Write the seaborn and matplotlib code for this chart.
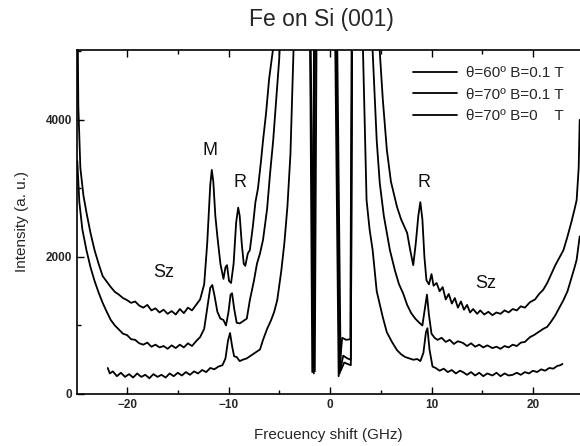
import matplotlib
matplotlib.use("Agg")
import matplotlib.pyplot as plt
import seaborn as sns
from matplotlib.ticker import MultipleLocator

# ---- data (off-scale points set above the axis top) ----
OFF = 6000

freq_60_01 = [-24.9, -24.8, -24.6, -24.3, -24.0, -23.6, -23.2, -22.8, -22.4, -22.0, -21.6, -21.2,
              -20.8, -20.4, -20.0, -19.6, -19.2, -18.8, -18.4, -18.0, -17.6, -17.2, -16.8, -16.4,
              -16.0, -15.6, -15.2, -14.8, -14.4, -14.0, -13.6, -13.2, -12.8, -12.4, -12.1, -11.8,
              -11.65, -11.5, -11.3, -11.1, -10.8, -10.5, -10.3, -10.15, -9.95, -9.75, -9.5, -9.25,
              -9.05, -8.9, -8.7, -8.5, -8.35, -8.1, -7.9, -7.6, -7.35, -7.1, -6.8, -6.6, -6.3, -6.0,
              -5.6, -5.3, -2.0, -1.75, -1.55, 0.45, 0.85, 1.2, 1.6, 2.0, 2.15, 4.5, 4.9, 5.2, 5.6,
              6.0, 6.6, 7.0, 7.6, 7.9, 8.2, 8.45, 8.7, 8.9, 9.1, 9.3, 9.5, 9.75, 10.0, 10.2, 10.5,
              10.8, 11.1, 11.4, 11.7, 12.0, 12.3, 12.6, 12.9, 13.2, 13.5, 13.8, 14.1, 14.5, 14.8,
              15.2, 15.6, 16.0, 16.4, 16.8, 17.2, 17.6, 18.0, 18.4, 18.8, 19.2, 19.7, 20.2, 20.6,
              21.0, 21.4, 21.8, 22.2, 22.6, 23.0, 23.4, 23.8, 24.1, 24.3, 24.5, 24.6]
int_60_01 = [OFF, 4200, 3300, 2900, 2650, 2350, 2100, 1900, 1720, 1640, 1560, 1490,
             1450, 1400, 1370, 1330, 1350, 1290, 1260, 1300, 1220, 1250, 1190, 1230,
             1170, 1210, 1160, 1240, 1180, 1260, 1220, 1300, 1380, 1600, 2200, 3050,
             3270, 3100, 2600, 2300, 1900, 1680, 1850, 1880, 1650, 1620, 1900, 2500,
             2720, 2600, 2200, 1900, 1870, 2050, 2100, 2450, 2800, 3000, 3400, 3700, 4100, 4600,
             5050, OFF, OFF, 320, OFF, OFF, 260, 820, 790, 800, OFF, OFF, 5000, 4300, 3560,
             3100, 2730, 2550, 2350, 2100, 1880, 2200, 2600, 2800, 2550, 2000, 1660, 1600, 1750, 1580, 1620,
             1500, 1560, 1380, 1460, 1320, 1400, 1260, 1350, 1230, 1300, 1190, 1240, 1170, 1220,
             1160, 1200, 1150, 1190, 1170, 1220, 1190, 1240, 1220, 1280, 1260, 1340, 1380, 1460,
             1520, 1620, 1750, 1880, 1990, 2100, 2300, 2520, 2700, 2830, 3300, 4000]

freq_70_01 = [-24.9, -24.7, -24.4, -24.0, -23.6, -23.2, -22.8, -22.4, -22.0, -21.6, -21.2, -20.8,
              -20.4, -20.0, -19.6, -19.2, -18.8, -18.4, -18.0, -17.6, -17.2, -16.8, -16.4, -16.0,
              -15.6, -15.2, -14.8, -14.4, -14.0, -13.6, -13.2, -12.8, -12.4, -12.1, -11.8, -11.6,
              -11.4, -11.1, -10.8, -10.5, -10.25, -10.0, -9.8, -9.65, -9.45, -9.2, -8.9, -8.6, -8.2,
              -7.9, -7.5, -7.2, -6.9, -6.6, -6.2, -5.9, -5.6, -5.3, -5.0, -4.8, -2.0, -1.6, -1.45,
              0.55, 0.95, 1.3, 1.7, 2.05, 2.2, 3.9, 4.2, 4.6, 4.9, 5.3, 5.9, 6.4, 6.8, 7.2, 7.6,
              8.0, 8.4, 8.8, 9.1, 9.35, 9.55, 9.75, 10.0, 10.3, 10.6, 11.0, 11.4, 11.8, 12.2, 12.6,
              13.1, 13.5, 13.9, 14.3, 14.7, 15.1, 15.5, 16.0, 16.4, 16.8, 17.2, 17.6, 18.0, 18.4,
              18.8, 19.2, 19.7, 20.1, 20.5, 21.0, 21.4, 21.8, 22.2, 22.6, 23.0, 23.4, 23.8, 24.1,
              24.3, 24.6]
int_70_01 = [3400, 2800, 2400, 2100, 1850, 1650, 1480, 1330, 1200, 1080, 1000, 940,
             880, 860, 800, 790, 740, 720, 750, 690, 720, 680, 700, 660,
             710, 670, 720, 680, 740, 700, 770, 830, 950, 1250, 1550, 1590,
             1450, 1200, 1100, 1080, 1000, 1200, 1450, 1470, 1250, 1040, 1030, 1060, 1100,
             1370, 1650, 1900, 2050, 2250, 2700, 3230, 3700, 4300, 4900, OFF, OFF, 300, OFF,
             OFF, 300, 560, 520, 500, OFF, OFF, 5000, 3700, 3080, 2600, 2100, 1800, 1600, 1470, 1300,
             1180, 1100, 1040, 1000, 1250, 1450, 1150, 880, 820, 790, 820, 760, 790, 730, 770,
             745, 700, 740, 690, 720, 680, 710, 670, 690, 660, 700, 680, 720, 700,
             750, 760, 830, 860, 900, 950, 980, 1060, 1150, 1260, 1370, 1500, 1700, 1850,
             1960, 2300]

freq_70_0 = [-21.9, -21.7, -21.4, -21.0, -20.6, -20.2, -19.8, -19.4, -19.0, -18.6, -18.2, -17.8,
             -17.4, -17.0, -16.6, -16.2, -15.8, -15.4, -15.0, -14.6, -14.2, -13.8, -13.4, -13.0,
             -12.6, -12.2, -11.8, -11.4, -11.0, -10.6, -10.3, -10.05, -9.85, -9.65, -9.45, -9.2,
             -8.9, -8.6, -8.2, -7.8, -7.4, -6.9, -6.6, -6.2, -5.8, -5.5, -5.2, -4.8, -4.5, -4.2,
             -3.9, -3.6, -3.4, -2.0, -1.5, -1.3, 0.65, 1.05, 1.4, 1.7, 2.05, 2.2, 3.0, 3.25, 3.6,
             3.9, 4.2, 4.6, 5.2, 5.6, 6.1, 6.6, 7.0, 7.4, 7.8, 8.2, 8.6, 8.9, 9.2, 9.45, 9.6, 9.8,
             10.1, 10.4, 10.8, 11.2, 11.6, 12.0, 12.4, 12.8, 13.1, 13.5, 13.9, 14.3, 14.7, 15.1,
             15.5, 16.0, 16.4, 16.8, 17.2, 17.6, 18.0, 18.4, 18.8, 19.2, 19.6, 20.0, 20.4, 20.8,
             21.2, 21.6, 22.0, 22.4, 22.7, 22.9]
int_70_0 = [380, 300, 330, 260, 310, 250, 290, 240, 300, 250, 280, 230,
            290, 250, 280, 240, 300, 260, 310, 270, 320, 280, 330, 300,
            350, 320, 380, 360, 400, 420, 520, 780, 890, 700, 550, 540,
            480, 500, 520, 560, 600, 650, 790, 950, 1080, 1200, 1370, 1800, 2200, 2730,
            3500, 5000, OFF, OFF, 330, OFF, OFF, 340, 460, 440, 420, OFF, OFF, 5000, 2830,
            2400, 2100, 1500, 1120, 900, 760, 640, 580, 540, 520, 500, 510, 480, 600, 900, 960, 650,
            400, 380, 340, 370, 320, 350, 300, 340, 320, 280, 320, 270, 310, 260,
            300, 270, 310, 260, 300, 270, 280, 310, 280, 320, 300, 340, 320, 360,
            340, 380, 370, 410, 420, 440]

labels = ["\u03b8=60\u00ba B=0.1 T", "\u03b8=70\u00ba B=0.1 T", "\u03b8=70\u00ba B=0    T"]

# peak annotations (label, x in GHz, intensity)
peak_text = [("M", -11.8, 3560), ("R", -8.9, 3080), ("Sz", -16.4, 1780),
             ("R", 9.3, 3090), ("Sz", 15.3, 1610)]

# ---- style ----
sns.set_theme(style="ticks")
plt.rcParams['font.family'] = ['Liberation Sans', 'DejaVu Sans']
plt.rcParams['xtick.direction'] = 'in'
plt.rcParams['ytick.direction'] = 'in'

fig = plt.figure(figsize=(5.8, 4.46), dpi=100)
ax = fig.add_axes([77 / 580, 52 / 446, 503 / 580, 344 / 446])

series = [(freq_60_01, int_60_01), (freq_70_01, int_70_01), (freq_70_0, int_70_0)]
for (fx, iy), lab in zip(series, labels):
    sns.lineplot(x=fx, y=iy, ax=ax, color="black", linewidth=1.3,
                 sort=False, estimator=None, label=lab)

for txt, px, py in peak_text:
    ax.text(px, py, txt, fontsize=13, ha="center", va="center", color="#111111")

ax.set_xlim(-24.93, 24.63)
ax.set_ylim(0, 5020)
ax.xaxis.set_major_locator(MultipleLocator(10))
ax.xaxis.set_minor_locator(MultipleLocator(5))
ax.yaxis.set_major_locator(MultipleLocator(2000))
ax.yaxis.set_minor_locator(MultipleLocator(1000))
ax.tick_params(which="both", top=True, right=False, color="black")
ax.tick_params(which="major", length=5, width=1)
ax.tick_params(which="minor", length=3, width=1)
for lbl in ax.get_xticklabels() + ax.get_yticklabels():
    lbl.set_fontweight("bold")
    lbl.set_fontsize(8.5)
for side in ["left", "bottom", "top"]:
    ax.spines[side].set_color("black")
    ax.spines[side].set_linewidth(1.2)
ax.spines["right"].set_visible(False)

ax.set_xlabel("Frecuency shift (GHz)", fontsize=11, labelpad=12)
ax.set_ylabel("Intensity (a. u.)", fontsize=11, labelpad=12)
ax.set_title("Fe on Si (001)", fontsize=16.5, pad=17, x=0.485)

leg = ax.legend(loc="upper left", bbox_to_anchor=(0.668, 0.953), frameon=False,
                fontsize=11, handlelength=2.9, handletextpad=0.6, labelspacing=0.5,
                borderpad=0, borderaxespad=0)
for line in leg.get_lines():
    line.set_linewidth(1.3)

fig.savefig("out.png", dpi=100)
